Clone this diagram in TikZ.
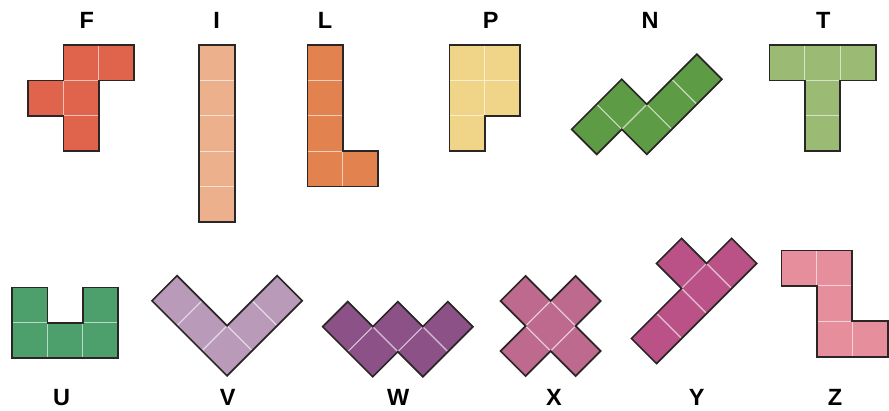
\documentclass[tikz,border=0pt]{standalone}
\usepackage{fontspec}
\setmainfont{Liberation Sans}
\definecolor{cF}{HTML}{E0644C}
\definecolor{cI}{HTML}{EDB08C}
\definecolor{cL}{HTML}{E2834F}
\definecolor{cP}{HTML}{F0D588}
\definecolor{cN}{HTML}{5E9B45}
\definecolor{cT}{HTML}{9BBA74}
\definecolor{cU}{HTML}{4DA06C}
\definecolor{cV}{HTML}{B99AB9}
\definecolor{cW}{HTML}{8C5288}
\definecolor{cX}{HTML}{BE6A8F}
\definecolor{cY}{HTML}{BB5287}
\definecolor{cZ}{HTML}{E68E9C}
\definecolor{edge}{HTML}{2A2626}
\newcommand\polyo[3]{%
  \foreach \a/\b in {#2}{\fill[#1] (\a,\b) -- ++(1,0) -- ++(0,1) -- ++(-1,0) -- cycle;}
  \foreach \a/\b in {#2}{\draw[#1!40!white, line width=1pt] (\a,\b) -- ++(1,0) -- ++(0,1) -- ++(-1,0) -- cycle;}
  \draw[outline] #3 -- cycle;}
\newcommand\gridpiece[4]{%
  \begin{scope}[shift={#1}]\begin{scope}[x=35.4pt,y=-35.4pt]\polyo{#2}{#3}{#4}\end{scope}\end{scope}}
\newcommand\diagpiece[4]{%
  \begin{scope}[shift={#1}]\begin{scope}[x={(25.03pt,25.03pt)},y={(25.03pt,-25.03pt)}]\polyo{#2}{#3}{#4}\end{scope}\end{scope}}
\begin{document}
\begin{tikzpicture}[x=1pt,y=-1pt,
  outline/.style={draw=edge, line width=1.7pt, line join=miter},
  lbl/.style={font=\fontsize{23.5}{26}\selectfont\bfseries, inner sep=0pt}]
\useasboundingbox (0,0) rectangle (889,410);
% top row
\gridpiece{(28,45)}{cF}{1/0,2/0,0/1,1/1,1/2}{(1,0)--(3,0)--(3,1)--(2,1)--(2,3)--(1,3)--(1,2)--(0,2)--(0,1)--(1,1)}
\gridpiece{(199.3,45)}{cI}{0/0,0/1,0/2,0/3,0/4}{(0,0)--(1,0)--(1,5)--(0,5)}
\gridpiece{(307.5,45)}{cL}{0/0,0/1,0/2,0/3,1/3}{(0,0)--(1,0)--(1,3)--(2,3)--(2,4)--(0,4)}
\gridpiece{(449.5,45)}{cP}{0/0,1/0,0/1,1/1,0/2}{(0,0)--(2,0)--(2,2)--(1,2)--(1,3)--(0,3)}
\diagpiece{(571.7,129.3)}{cN}{0/0,1/0,1/1,2/1,3/1}{(0,0)--(2,0)--(2,1)--(4,1)--(4,2)--(1,2)--(1,1)--(0,1)}
\gridpiece{(769.5,45)}{cT}{0/0,1/0,2/0,1/1,1/2}{(0,0)--(3,0)--(3,1)--(2,1)--(2,3)--(1,3)--(1,1)--(0,1)}
% bottom row
\gridpiece{(12,287.5)}{cU}{0/0,2/0,0/1,1/1,2/1}{(0,0)--(1,0)--(1,1)--(2,1)--(2,0)--(3,0)--(3,2)--(0,2)}
\diagpiece{(152,300.7)}{cV}{0/0,0/1,0/2,1/2,2/2}{(0,0)--(1,0)--(1,2)--(3,2)--(3,3)--(0,3)}
\diagpiece{(322.7,326.7)}{cW}{0/0,0/1,1/1,1/2,2/2}{(0,0)--(1,0)--(1,1)--(2,1)--(2,2)--(3,2)--(3,3)--(1,3)--(1,2)--(0,2)}
\diagpiece{(475.5,326)}{cX}{1/0,0/1,1/1,2/1,1/2}{(1,0)--(2,0)--(2,1)--(3,1)--(3,2)--(2,2)--(2,3)--(1,3)--(1,2)--(0,2)--(0,1)--(1,1)}
\diagpiece{(631.5,338.5)}{cY}{0/0,1/0,2/0,3/0,2/-1}{(0,0)--(2,0)--(2,-1)--(3,-1)--(3,0)--(4,0)--(4,1)--(0,1)}
\gridpiece{(781.5,250.5)}{cZ}{0/0,1/0,1/1,1/2,2/2}{(0,0)--(2,0)--(2,2)--(3,2)--(3,3)--(1,3)--(1,1)--(0,1)}
% labels
\node[lbl] (lF) at (86.7,20.8) {F};
\node[lbl] (lI) at (216.7,20.8) {I};
\node[lbl] (lL) at (325,20.8) {L};
\node[lbl] (lP) at (490.7,20.8) {P};
\node[lbl] (lN) at (650,20.8) {N};
\node[lbl] (lT) at (823.3,20.8) {T};
\node[lbl] (lU) at (61.7,397.5) {U};
\node[lbl] (lV) at (227.7,397.5) {V};
\node[lbl] (lW) at (398.3,397.5) {W};
\node[lbl] (lX) at (554,397.5) {X};
\node[lbl] (lY) at (696.7,397.5) {Y};
\node[lbl] (lZ) at (835,397.5) {Z};
\end{tikzpicture}
\end{document}
